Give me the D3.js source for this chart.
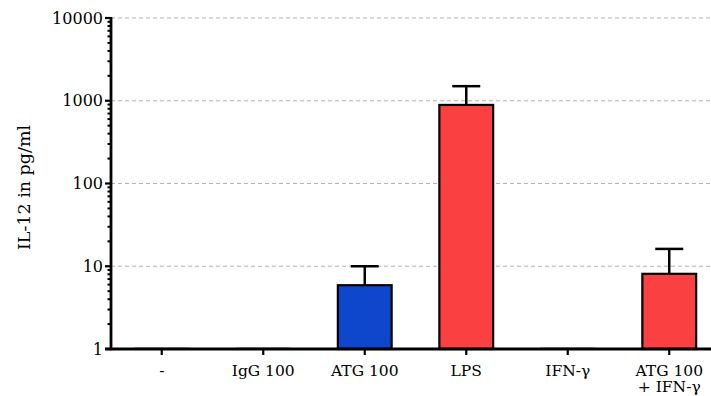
<!DOCTYPE html>
<html>
<head>
<meta charset="utf-8">
<script src="https://cdn.jsdelivr.net/npm/d3@7"></script>
<style>
  body { margin: 0; background: #fff; }
  text { font-family: "DejaVu Serif", serif; }
</style>
</head>
<body>
<div id="chart"></div>
<script>
// Data (zero responses drawn at the axis floor of 1)
const categories = ["-", "IgG 100", "ATG 100", "LPS", "IFN-γ", "ATG 100\n+ IFN-γ"];
const means = [1, 1, 5.9, 890, 1, 8.1];
const errTop = [null, null, 10, 1500, null, 16.2];
const barColors = ["#ffffff", "#ffffff", "#0e47cc", "#fa4040", "#ffffff", "#fa4040"];
const yTicks = [1, 10, 100, 1000, 10000];

const width = 711, height = 396;
const margin = { top: 18, right: -9, bottom: 47, left: 111 };

const svg = d3
  .select("#chart")
  .append("svg")
  .attr("width", width)
  .attr("height", height);

const x = d3
  .scaleBand()
  .domain(categories)
  .range([margin.left, width - margin.right])
  .paddingInner(0.47)
  .paddingOuter(0.235);

const y = d3
  .scaleLog()
  .domain([1, 10000])
  .range([height - margin.bottom, margin.top]);

// Dashed grid lines at each decade
svg
  .append("g")
  .selectAll("line")
  .data(yTicks.slice(1))
  .join("line")
  .attr("x1", margin.left)
  .attr("x2", width)
  .attr("y1", (d) => y(d))
  .attr("y2", (d) => y(d))
  .attr("stroke", "#b3b3b3")
  .attr("stroke-width", 1.2)
  .attr("stroke-dasharray", "4,3");

// Bars
svg
  .append("g")
  .selectAll("rect")
  .data(categories)
  .join("rect")
  .attr("x", (d) => x(d))
  .attr("width", x.bandwidth())
  .attr("y", (d, i) => y(means[i]) - (means[i] <= 1 ? 0.5 : 0))
  .attr("height", (d, i) => Math.max(0.5, y(1) - y(means[i])))
  .attr("fill", (d, i) => barColors[i])
  .attr("stroke", "#000")
  .attr("stroke-width", (d, i) => (means[i] <= 1 ? 1.5 : 2.2));

// Error bars (upper only)
const errs = svg.append("g").attr("stroke", "#000").attr("stroke-width", 2.5);
categories.forEach((c, i) => {
  if (errTop[i] == null) return;
  const cx = x(c) + x.bandwidth() / 2;
  errs
    .append("line")
    .attr("x1", cx)
    .attr("x2", cx)
    .attr("y1", y(means[i]))
    .attr("y2", y(errTop[i]));
  errs
    .append("line")
    .attr("x1", cx - 14)
    .attr("x2", cx + 14)
    .attr("y1", y(errTop[i]))
    .attr("y2", y(errTop[i]));
});

// Y axis with log minor ticks
const yAxis = svg.append("g").attr("transform", `translate(${margin.left},0)`);
const minor = [];
for (let p = 0; p < 4; p++) {
  for (let k = 2; k <= 9; k++) minor.push(k * Math.pow(10, p));
}
yAxis
  .selectAll("line.minor")
  .data(minor)
  .join("line")
  .attr("class", "minor")
  .attr("x1", -3.5)
  .attr("x2", 0)
  .attr("y1", (d) => y(d))
  .attr("y2", (d) => y(d))
  .attr("stroke", "#000")
  .attr("stroke-width", 2);
yAxis
  .selectAll("line.major")
  .data(yTicks)
  .join("line")
  .attr("class", "major")
  .attr("x1", -6)
  .attr("x2", 0)
  .attr("y1", (d) => y(d))
  .attr("y2", (d) => y(d))
  .attr("stroke", "#000")
  .attr("stroke-width", 2.2);
yAxis
  .append("line")
  .attr("x1", 0)
  .attr("x2", 0)
  .attr("y1", y(1) + 1.2)
  .attr("y2", y(10000) - 1)
  .attr("stroke", "#000")
  .attr("stroke-width", 2.8);
yAxis
  .selectAll("text")
  .data(yTicks)
  .join("text")
  .attr("x", -8)
  .attr("y", (d) => y(d))
  .attr("dy", "0.35em")
  .attr("text-anchor", "end")
  .attr("font-size", "16px")
  .attr("fill", "#000")
  .text((d) => d);

// X axis
const xAxis = svg.append("g");
xAxis
  .append("line")
  .attr("x1", margin.left - 6)
  .attr("x2", width)
  .attr("y1", y(1))
  .attr("y2", y(1))
  .attr("stroke", "#000")
  .attr("stroke-width", 2.8);
xAxis
  .selectAll("line.tick")
  .data(categories)
  .join("line")
  .attr("class", "tick")
  .attr("x1", (d) => x(d) + x.bandwidth() / 2)
  .attr("x2", (d) => x(d) + x.bandwidth() / 2)
  .attr("y1", y(1))
  .attr("y2", y(1) + 6)
  .attr("stroke", "#000")
  .attr("stroke-width", 2.2);
xAxis
  .selectAll("text")
  .data(categories)
  .join("text")
  .attr("x", (d) => x(d) + x.bandwidth() / 2)
  .attr("y", y(1) + 27)
  .attr("text-anchor", "middle")
  .attr("font-size", "15.5px")
  .attr("fill", "#000")
  .each(function (d) {
    const t = d3.select(this);
    d.split("\n").forEach((line, k) => {
      t.append("tspan")
        .attr("x", x(d) + x.bandwidth() / 2)
        .attr("dy", k === 0 ? 0 : "1.05em")
        .text(line);
    });
  });

// Y axis title
svg
  .append("text")
  .attr("transform", `translate(30,${(y(1) + y(10000)) / 2 + 4}) rotate(-90)`)
  .attr("text-anchor", "middle")
  .attr("font-size", "17.5px")
  .attr("fill", "#000")
  .text("IL-12 in pg/ml");
</script>
</body>
</html>
